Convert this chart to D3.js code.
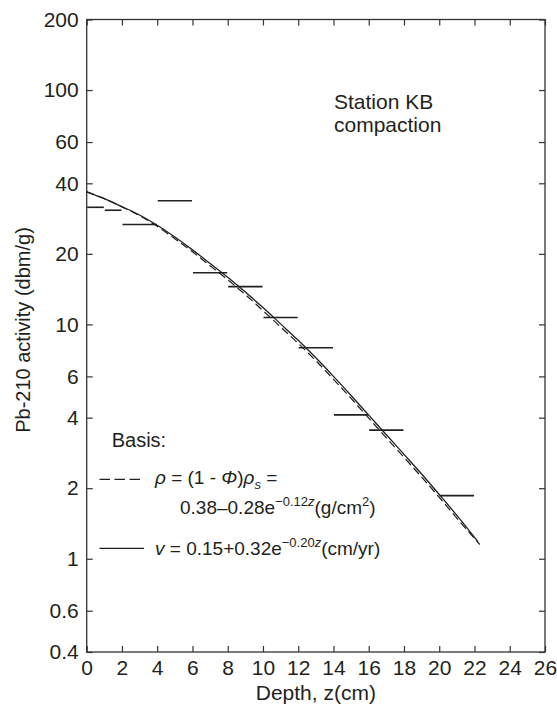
<!DOCTYPE html>
<html>
<head>
<meta charset="utf-8">
<script src="https://cdn.jsdelivr.net/npm/d3@7"></script>
<style>
  body { margin: 0; background: #fff; }
  text { font-family: "Liberation Sans", Arial, Helvetica, sans-serif; fill: #231f20; }
</style>
</head>
<body>
<div id="chart"></div>
<script>
// page size and plot box
const width = 557
const height = 711
const plotLeft = 86.7, plotRight = 545, plotTop = 19.5, plotBottom = 652

// measured Pb-210 activity, each level drawn as a horizontal bar over its depth interval
const segStart = [0, 1, 2, 4, 6, 8, 10, 12, 14, 16, 20]
const segEnd = [1, 2, 4, 6, 8, 10, 12, 14, 16, 18, 22]
const segActivity = [31.6, 30.7, 26.7, 33.7, 16.6, 14.5, 10.7, 7.95, 4.11, 3.54, 1.86]

// model curves
const solidDepth = [0, 1, 2, 3, 4, 5, 6, 7, 8, 9, 10, 11, 12, 13, 14, 15, 16, 17, 18, 19, 20, 21, 22.2]
const solidActivity = [36.8, 34.4, 31.8, 29.3, 26.5, 23.6, 20.8, 18.2, 15.9, 13.75, 11.8, 10.05, 8.55, 7.2, 6.0, 4.97, 4.1, 3.38, 2.79, 2.3, 1.88, 1.53, 1.18]
const dashDepth = [0, 1, 2, 3, 4, 5, 6, 7, 8, 9, 10, 11, 12, 13, 14, 15, 16, 17, 18, 19, 20, 21, 22.3]
const dashActivity = [36.8, 34.4, 31.7, 29.1, 26.2, 23.2, 20.4, 17.8, 15.5, 13.4, 11.45, 9.75, 8.3, 7.0, 5.83, 4.83, 3.98, 3.28, 2.71, 2.23, 1.83, 1.49, 1.15]

// axis ticks
const xTicks = [0, 2, 4, 6, 8, 10, 12, 14, 16, 18, 20, 22, 24, 26]
const yTicks = [0.4, 0.6, 1, 2, 4, 6, 10, 20, 40, 60, 100, 200]

const ink = "#231f20"

const svg = d3.select("#chart")
    .append("svg")
    .attr("width", width)
    .attr("height", height)

const x = d3.scaleLinear().domain([0, 26]).range([plotLeft, plotRight])
const y = d3.scaleLog().domain([0.4, 200]).range([plotBottom, plotTop])

// axes: ticks point inward, labels only on left and bottom
const styleAxis = g => {
    g.select(".domain").remove()
    g.selectAll(".tick line").attr("stroke", "#333").attr("stroke-width", 1.2)
    g.selectAll(".tick text").style("font-size", "21px").attr("fill", ink)
}

svg.append("g")
    .attr("transform", "translate(0," + plotBottom + ")")
    .call(d3.axisBottom(x).tickValues(xTicks).tickSize(-6).tickSizeOuter(0).tickPadding(8).tickFormat(d => d))
    .call(styleAxis)

svg.append("g")
    .attr("transform", "translate(0," + plotTop + ")")
    .call(d3.axisTop(x).tickValues(xTicks).tickSize(-6).tickSizeOuter(0).tickFormat(""))
    .call(styleAxis)

svg.append("g")
    .attr("transform", "translate(" + plotLeft + ",0)")
    .call(d3.axisLeft(y).tickValues(yTicks).tickSize(-6).tickSizeOuter(0).tickPadding(8).tickFormat(d => d))
    .call(styleAxis)

svg.append("g")
    .attr("transform", "translate(" + plotRight + ",0)")
    .call(d3.axisRight(y).tickValues(yTicks).tickSize(-6).tickSizeOuter(0).tickFormat(""))
    .call(styleAxis)

// frame
svg.append("rect")
    .attr("x", plotLeft).attr("y", plotTop)
    .attr("width", plotRight - plotLeft).attr("height", plotBottom - plotTop)
    .attr("fill", "none").attr("stroke", "#333").attr("stroke-width", 1.3)

// axis titles
svg.append("text")
    .attr("x", (plotLeft + plotRight) / 2).attr("y", 700)
    .attr("text-anchor", "middle")
    .style("font-size", "21px")
    .text("Depth, z(cm)")

svg.append("text")
    .attr("transform", "translate(30," + 330 + ") rotate(-90)")
    .attr("text-anchor", "middle")
    .style("font-size", "20px")
    .text("Pb-210 activity (dbm/g)")

// data bars
const segs = segStart.map((s, i) => [s, segEnd[i], segActivity[i]])
svg.append("g").selectAll("line")
    .data(segs)
    .enter()
    .append("line")
    .attr("x1", d => x(d[0]) + 0.5)
    .attr("x2", d => x(d[1]) - 0.5)
    .attr("y1", d => y(d[2]))
    .attr("y2", d => y(d[2]))
    .attr("stroke", ink)
    .attr("stroke-width", 1.6)

// model curves
const line = d3.line()
    .x(d => x(d[0]))
    .y(d => y(d[1]))
    .curve(d3.curveMonotoneX)

svg.append("path")
    .datum(dashDepth.map((z, i) => [z, dashActivity[i]]))
    .attr("d", line)
    .attr("fill", "none")
    .attr("stroke", ink)
    .attr("stroke-width", 1.2)
    .attr("stroke-dasharray", "8,4")

svg.append("path")
    .datum(solidDepth.map((z, i) => [z, solidActivity[i]]))
    .attr("d", line)
    .attr("fill", "none")
    .attr("stroke", ink)
    .attr("stroke-width", 1.3)

// station label
svg.append("text").attr("x", 334).attr("y", 109).style("font-size", "21px").text("Station KB")
svg.append("text").attr("x", 334).attr("y", 132).style("font-size", "21px").text("compaction")

// legend
svg.append("text").attr("x", 111.7).attr("y", 447).style("font-size", "20px").text("Basis:")

svg.append("line").attr("x1", 99.5).attr("x2", 143).attr("y1", 479.3).attr("y2", 479.3)
    .attr("stroke", ink).attr("stroke-width", 1.2).attr("stroke-dasharray", "10.5,4.5")
svg.append("line").attr("x1", 99.5).attr("x2", 144).attr("y1", 548.3).attr("y2", 548.3)
    .attr("stroke", ink).attr("stroke-width", 1.2)

const eq1 = svg.append("text").attr("x", 155).attr("y", 484).style("font-size", "19px")
eq1.append("tspan").style("font-style", "italic").text("\u03c1")
eq1.append("tspan").text(" = (1 - ")
eq1.append("tspan").style("font-style", "italic").text("\u03a6")
eq1.append("tspan").text(")")
eq1.append("tspan").style("font-style", "italic").text("\u03c1")
eq1.append("tspan").attr("dy", 5).style("font-size", "13px").style("font-style", "italic").text("s")
eq1.append("tspan").attr("dy", -5).text(" =")

const eq2 = svg.append("text").attr("x", 180).attr("y", 514).style("font-size", "19px")
eq2.append("tspan").text("0.38\u20130.28e")
eq2.append("tspan").attr("dy", -8).style("font-size", "13px").text("\u22120.12")
eq2.append("tspan").style("font-size", "13px").style("font-style", "italic").text("z")
eq2.append("tspan").attr("dy", 8).text("(g/cm")
eq2.append("tspan").attr("dy", -8).style("font-size", "13px").text("2")
eq2.append("tspan").attr("dy", 8).text(")")

const eq3 = svg.append("text").attr("x", 155).attr("y", 555).style("font-size", "19px")
eq3.append("tspan").style("font-style", "italic").text("v")
eq3.append("tspan").text(" = 0.15+0.32e")
eq3.append("tspan").attr("dy", -8).style("font-size", "13px").text("\u22120.20")
eq3.append("tspan").style("font-style", "italic").style("font-size", "13px").text("z")
eq3.append("tspan").attr("dy", 8).text("(cm/yr)")
</script>
</body>
</html>
